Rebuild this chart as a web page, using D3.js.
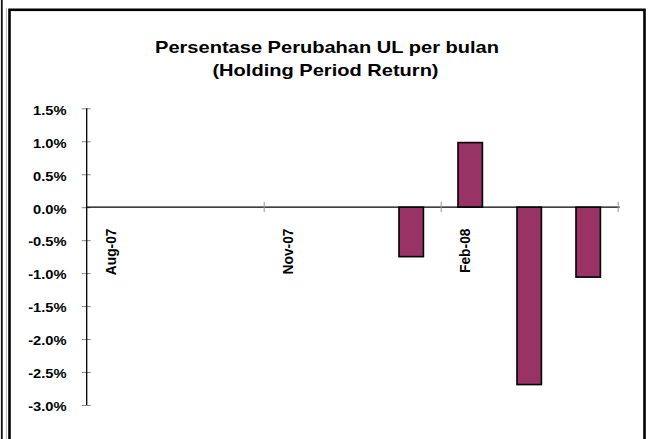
<!DOCTYPE html>
<html><head><meta charset="utf-8">
<script src="https://cdn.jsdelivr.net/npm/d3@7"></script>
<style>
html,body{margin:0;padding:0;background:#fff;}
text{font-family:"Liberation Sans",Arial,sans-serif;font-weight:bold;fill:#000;}
</style></head>
<body><svg id="c" width="651" height="439"></svg>
<script>
const titleLines = ["Persentase Perubahan UL per bulan", "(Holding Period Return)"];
const months = ["Aug-07","Sep-07","Oct-07","Nov-07","Dec-07","Jan-08","Feb-08","Mar-08","Apr-08"];
const values = [null, null, null, null, null, -0.75, 0.98, -2.69, -1.06];
const xTickLabels = ["Aug-07","Nov-07","Feb-08"];
const yTicks = [1.5,1.0,0.5,0.0,-0.5,-1.0,-1.5,-2.0,-2.5,-3.0];

const svg = d3.select("#c");
const SX = 1.13;

// frame
svg.append("line").attr("x1",1.8).attr("x2",1.8).attr("y1",0).attr("y2",439).attr("stroke","#111").attr("stroke-width",1.8);
svg.append("line").attr("x1",6.5).attr("x2",6.5).attr("y1",8).attr("y2",439).attr("stroke","#bbb").attr("stroke-width",1);
svg.append("rect").attr("x",9.5).attr("y",9.8).attr("width",635).attr("height",460)
  .attr("fill","none").attr("stroke","#000").attr("stroke-width",2.6);

// title
titleLines.forEach((t,i)=>{
  svg.append("text").attr("transform",`translate(${i?325.5:327},${i?75.5:53.3}) scale(1.16,1)`)
    .attr("text-anchor","middle").attr("font-size",17.3).text(t);
});

const x0 = 86.7, x1 = 617.7;
const x = d3.scaleBand().domain(months).range([x0,x1]).paddingInner(0.586).paddingOuter(0.293);
const slot = d3.scaleLinear().domain([0, months.length]).range([x0,x1]);
const y = d3.scaleLinear().domain([-3,1.5]).range([405,108.3]);

// y axis
const ya = svg.append("g").attr("transform",`translate(${x0},0)`)
  .call(d3.axisLeft(y).tickValues(yTicks).tickSize(5).tickFormat(""));
ya.select(".domain").remove();
ya.selectAll(".tick line").attr("x1",4).attr("x2",-5).attr("stroke","#888").attr("stroke-width",1);
svg.append("line").attr("x1",x0).attr("x2",x0).attr("y1",y(1.5)).attr("y2",y(-3)).attr("stroke","#000").attr("stroke-width",1.3);
yTicks.forEach(v=>{
  svg.append("text").attr("transform",`translate(66.5,${y(v)+6.3}) scale(${SX},1)`)
    .attr("text-anchor","end").attr("font-size",13).text(v.toFixed(1)+"%");
});

// bars
svg.append("g").selectAll("rect").data(months.map((m,i)=>({m,v:values[i]})).filter(d=>d.v!==null))
  .join("rect")
  .attr("x",d=>x(d.m)).attr("width",x.bandwidth())
  .attr("y",d=>y(Math.max(0,d.v))).attr("height",d=>Math.abs(y(d.v)-y(0)))
  .attr("fill","#993366").attr("stroke","#000").attr("stroke-width",1.6);

// x axis
const y0 = y(0);
svg.append("line").attr("x1",x0).attr("x2",x1+2).attr("y1",y0).attr("y2",y0).attr("stroke","#000").attr("stroke-width",1.3);
const xa = svg.append("g").attr("transform",`translate(0,${y0})`)
  .call(d3.axisBottom(slot).tickValues([3,6,9]).tickSize(5).tickFormat(""));
xa.select(".domain").remove();
xa.selectAll(".tick line").attr("y1",-5.5).attr("y2",5).attr("stroke","#999").attr("stroke-width",1);

xTickLabels.forEach(l=>{
  const cx = x(l) + x.bandwidth()/2;
  svg.append("text").attr("transform",`translate(${cx-0.5},228.5) rotate(-90)`)
    .attr("text-anchor","end").attr("font-size",13.8).text(l);
});
</script></body></html>
